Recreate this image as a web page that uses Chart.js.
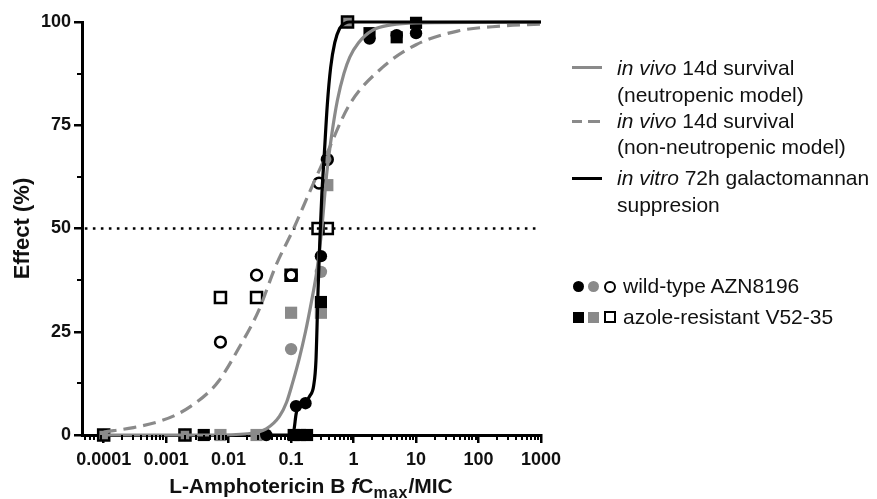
<!DOCTYPE html>
<html><head><meta charset="utf-8">
<script src="https://cdn.jsdelivr.net/npm/chart.js@4.4.0/dist/chart.umd.min.js"></script>
<style>
html,body{margin:0;padding:0;background:#fff;}
#wrap{position:relative;width:877px;height:499px;overflow:hidden;font-family:"Liberation Sans",Arial,sans-serif;color:#111;}
canvas{position:absolute;left:0;top:0;}
.t{position:absolute;font-size:21px;line-height:26px;white-space:nowrap;}
.ln{position:absolute;height:3px;}
.mk{position:absolute;box-sizing:border-box;}
#xt{position:absolute;left:0;width:622px;top:474px;text-align:center;font-weight:bold;font-size:21px;line-height:24px;white-space:nowrap;}
#xt sub{font-size:16px;vertical-align:-5px;line-height:0;letter-spacing:1px;}
</style></head>
<body><div id="wrap">
<canvas id="c" width="877" height="499"></canvas>
<div id="xt">L-Amphotericin B <i>f</i>C<sub>max</sub>/MIC</div>

<div class="ln" style="left:572px;top:66px;width:30px;background:#8a8a8a"></div>
<div class="t" style="left:617px;top:55px"><i>in vivo</i> 14d survival</div>
<div class="t" style="left:617px;top:82px">(neutropenic model)</div>
<div class="ln" style="left:572px;top:120px;width:10px;background:#8a8a8a"></div>
<div class="ln" style="left:588px;top:120px;width:12px;background:#8a8a8a"></div>
<div class="t" style="left:617px;top:108px"><i>in vivo</i> 14d survival</div>
<div class="t" style="left:617px;top:134px">(non-neutropenic model)</div>
<div class="ln" style="left:572px;top:177px;width:30px;background:#000"></div>
<div class="t" style="left:617px;top:165px"><i>in vitro</i> 72h galactomannan</div>
<div class="t" style="left:617px;top:192px">suppresion</div>

<div class="mk" style="left:573px;top:281px;width:11px;height:11px;border-radius:50%;background:#000"></div>
<div class="mk" style="left:588px;top:281px;width:11px;height:11px;border-radius:50%;background:#8a8a8a"></div>
<div class="mk" style="left:604px;top:281px;width:12px;height:12px;border-radius:50%;border:2.5px solid #000"></div>
<div class="t" style="left:623px;top:273px">wild-type AZN8196</div>
<div class="mk" style="left:573px;top:312px;width:11px;height:11px;background:#000"></div>
<div class="mk" style="left:588px;top:312px;width:11px;height:11px;background:#8a8a8a"></div>
<div class="mk" style="left:604px;top:311px;width:12px;height:12px;border:2.5px solid #000"></div>
<div class="t" style="left:623px;top:304px">azole-resistant V52-35</div>
</div>
<script>
// ---- tick labels ----
const xMajorTicks = [0.0001, 0.001, 0.01, 0.1, 1, 10, 100, 1000];
const xTickLabels = ['0.0001', '0.001', '0.01', '0.1', '1', '10', '100', '1000'];
const yMajorTicks = [0, 25, 50, 75, 100];
const yTickLabels = ['0', '25', '50', '75', '100'];
const yMinorTicks = [12.5, 37.5, 62.5, 87.5];

// ---- fitted curves [x, effect%] ----
const curveNeutropenic = [[0.0001,0],[0.005,0],[0.02,0.3],[0.04,1.5],[0.065,4.5],[0.085,8],[0.105,12.5],[0.135,18.5],[0.17,25],[0.21,32],[0.26,40],[0.31,50],[0.37,63],[0.45,73],[0.55,81],[0.7,87.5],[0.87,91.5],[1.2,95],[2,98],[4,99.3],[10,99.8],[1000,100]];
const curveNonNeutropenic = [[0.0001,0.7],[0.0003,1.8],[0.00074,3.2],[0.0015,5],[0.0025,7],[0.0045,10],[0.0069,13],[0.0145,21],[0.03,30],[0.057,41],[0.11,50],[0.2,59],[0.37,68],[0.86,80],[2.9,89],[10,94.5],[46,97.8],[225,99],[1000,99.5]];
const curveInVitro = [[0.04,0],[0.09,0],[0.11,1],[0.12,5],[0.13,7],[0.17,8],[0.2,9.5],[0.23,12],[0.25,18],[0.27,35],[0.29,48],[0.31,58],[0.34,68],[0.38,80],[0.43,89],[0.5,95],[0.6,98.5],[0.75,99.8],[0.85,100],[1000,100]];
const refLine50 = [[0.00005,50],[850,50]];

// ---- observed points [x, effect%] ----
const blackCircles = [[0.04,0],[0.12,7],[0.17,7.7],[0.3,43.3],[1.8,96],[4.9,96.8],[10,97.3]];
const blackSquares = [[0.004,0],[0.11,0],[0.14,0],[0.18,0],[0.3,32.2],[1.8,97.3],[4.9,96.3],[10,99.8]];
const grayCircles = [[0.0001,0],[0.002,0],[0.1,20.8],[0.3,39.5],[0.38,66.7],[0.8,100]];
const graySquares = [[0.0074,0],[0.028,0],[0.1,29.6],[0.3,29.6],[0.38,60.5]];
const openCircles = [[0.0074,22.5],[0.028,38.7],[0.1,38.7],[0.28,61],[0.38,66.7]];
const openSquares = [[0.0001,0],[0.002,0],[0.0074,33.3],[0.028,33.3],[0.1,38.7],[0.27,50],[0.38,50],[0.8,100]];

const GRAY = '#8a8a8a';
const toXY = a => a.map(p => ({x: p[0], y: p[1]}));
const xMin = 0.000045, xMax = 1000;
const xMinorTicks = [];
for (let d = -5; d <= 2; d++) for (let k = 2; k <= 9; k++) {
  const v = k * Math.pow(10, d);
  if (v > xMin && v < xMax) xMinorTicks.push(v);
}

const minorTickPlugin = {
  id: 'minorTicks',
  afterDraw(chart) {
    const ctx = chart.ctx, xs = chart.scales.x, ys = chart.scales.y;
    ctx.save();
    ctx.strokeStyle = '#000'; ctx.lineWidth = 2;
    xMinorTicks.forEach(v => {
      const px = Math.round(xs.getPixelForValue(v));
      ctx.beginPath(); ctx.moveTo(px, xs.top); ctx.lineTo(px, xs.top + 5); ctx.stroke();
    });
    yMinorTicks.forEach(v => {
      const py = Math.round(ys.getPixelForValue(v));
      ctx.beginPath(); ctx.moveTo(ys.right, py); ctx.lineTo(ys.right - 5, py); ctx.stroke();
    });
    ctx.restore();
  }
};

const lineDS = (data, color, dash, order) => ({
  type: 'line', data: toXY(data), borderColor: color, borderWidth: 3.2, borderDash: dash,
  pointRadius: 0, fill: false, cubicInterpolationMode: 'monotone', clip: false, order: order
});
const ptDS = (data, style, fill, border, r, order) => ({
  type: 'scatter', data: toXY(data), pointStyle: style, pointRadius: r, pointHoverRadius: r,
  backgroundColor: fill, borderColor: border, borderWidth: border === 'transparent' ? 0 : 2.5,
  clip: false, order: order
});

new Chart(document.getElementById('c'), {
  type: 'scatter',
  data: {
    datasets: [
      ptDS(grayCircles, 'circle', GRAY, 'transparent', 6.2, 9),
      ptDS(graySquares, 'rect', GRAY, 'transparent', 8.6, 9),
      ptDS(blackCircles, 'circle', '#000', 'transparent', 6.2, 8),
      ptDS(blackSquares, 'rect', '#000', 'transparent', 8.6, 8),
      ptDS(openSquares, 'rect', 'rgba(0,0,0,0)', '#000', 7.8, 7),
      ptDS(openCircles, 'circle', 'rgba(0,0,0,0)', '#000', 5.4, 7),
      {type: 'line', data: toXY(refLine50), borderColor: '#000', borderWidth: 2.6, borderDash: [2.6, 5.4],
       pointRadius: 0, fill: false, clip: false, order: 6},
      lineDS(curveNonNeutropenic, GRAY, [13, 7], 3),
      lineDS(curveNeutropenic, GRAY, [], 2),
      lineDS(curveInVitro, '#000', [], 1)
    ]
  },
  options: {
    responsive: false, animation: false, devicePixelRatio: 1,
    layout: {padding: {left: 6, top: 22, right: 336, bottom: 0}},
    plugins: {legend: {display: false}, tooltip: {enabled: false}},
    scales: {
      x: {
        type: 'logarithmic', min: xMin, max: xMax,
        afterBuildTicks: s => { s.ticks = xMajorTicks.map(v => ({value: v, major: true})); },
        afterFit: s => { s.height = 64; },
        ticks: {autoSkip: false, maxRotation: 0, padding: 6, color: '#111',
          font: {family: '"Liberation Sans", Arial, sans-serif', size: 18, weight: 'bold'},
          callback: (v, i) => xTickLabels[i]},
        grid: {display: true, drawOnChartArea: false, drawTicks: true, tickLength: 8, color: '#000', lineWidth: 2.5},
        border: {display: true, color: '#000', width: 3}
      },
      y: {
        type: 'linear', min: 0, max: 100,
        afterBuildTicks: s => { s.ticks = yMajorTicks.map(v => ({value: v})); },
        afterFit: s => { s.width = 76; },
        ticks: {padding: 3, color: '#111',
          font: {family: '"Liberation Sans", Arial, sans-serif', size: 18, weight: 'bold'},
          callback: (v, i) => yTickLabels[i]},
        grid: {display: true, drawOnChartArea: false, drawTicks: true, tickLength: 8, color: '#000', lineWidth: 2.5},
        border: {display: true, color: '#000', width: 3},
        title: {display: true, text: 'Effect (%)', color: '#111', padding: {top: 4, bottom: 0},
          font: {family: '"Liberation Sans", Arial, sans-serif', size: 22, weight: 'bold'}}
      }
    }
  },
  plugins: [minorTickPlugin]
});
</script>
</body></html>
